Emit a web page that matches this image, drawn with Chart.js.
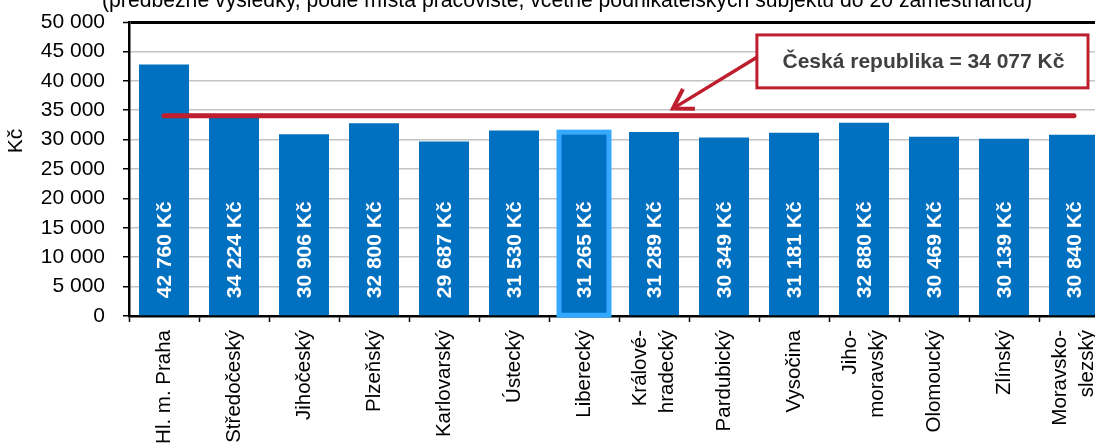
<!DOCTYPE html>
<html>
<head>
<meta charset="utf-8">
<script src="https://cdn.jsdelivr.net/npm/chart.js@4/dist/chart.umd.min.js"></script>
<style>
  html, body { margin: 0; padding: 0; background: #fff; overflow: hidden; }
  #wrap { position: absolute; left: 0; top: 0; width: 1115px; height: 446px; }
</style>
</head>
<body>
<div id="wrap"><canvas id="c"></canvas></div>
<script>
// ---- data ----
const categories = [
  "Hl. m. Praha", "Středočeský", "Jihočeský", "Plzeňský", "Karlovarský", "Ústecký",
  "Liberecký", ["Králové-", "hradecký"], "Pardubický", "Vysočina", ["Jiho-", "moravský"],
  "Olomoucký", "Zlínský", ["Moravsko-", "slezský"]
];
const wages = [42760, 34224, 30906, 32800, 29687, 31530, 31265, 31289, 30349, 31181, 32880, 30469, 30139, 30840];
const nationalAverage = 34077;
const nationalLabel = "Česká republika = 34 077 Kč";
const highlightIndex = 6;
const yMin = 0, yMax = 50000, yStep = 5000;
const titleText = "(předběžné výsledky, podle místa pracoviště, včetně podnikatelských subjektů do 20 zaměstnanců)";
const yAxisTitle = "Kč";
const avgLine = categories.map(() => nationalAverage);

function fmt(v) {
  return String(Math.round(v)).replace(/\B(?=(\d{3})+(?!\d))/g, " ");
}

const BLUE = "#0070C0";
const RED = "#BE1E2D";
const FONT = "'Liberation Sans', Arial, sans-serif";

const overlay = {
  id: "overlay",
  afterDatasetsDraw(chart) {
    const ctx = chart.ctx;
    const meta = chart.getDatasetMeta(1);
    // highlight border
    const hb = meta.data[highlightIndex];
    ctx.save();
    ctx.strokeStyle = "#35A8FF";
    ctx.lineWidth = 5;
    ctx.strokeRect(hb.x - hb.width / 2, hb.y, hb.width, hb.base - hb.y);
    ctx.restore();
    // value labels
    ctx.save();
    ctx.fillStyle = "#fff";
    ctx.font = "bold 21px " + FONT;
    ctx.textAlign = "left";
    ctx.textBaseline = "middle";
    meta.data.forEach((bar, i) => {
      ctx.save();
      ctx.translate(bar.x + 1, bar.base - 17);
      ctx.rotate(-Math.PI / 2);
      ctx.fillText(fmt(wages[i]) + " Kč", 0, 0);
      ctx.restore();
    });
    ctx.restore();
  },
  afterDraw(chart) {
    const ctx = chart.ctx;
    const x = chart.scales.x, y = chart.scales.y;
    const ca = chart.chartArea;
    // category labels (rotated, multi-line centred on the category)
    ctx.save();
    ctx.fillStyle = "#000";
    ctx.font = "20.5px " + FONT;
    ctx.textAlign = "right";
    ctx.textBaseline = "middle";
    const lineGap = 27.5;
    categories.forEach((lab, i) => {
      const lines = Array.isArray(lab) ? lab : [lab];
      const cx = x.getPixelForValue(i);
      lines.forEach((ln, k) => {
        const off = (k - (lines.length - 1) / 2) * lineGap;
        ctx.save();
        ctx.translate(cx + off, ca.bottom + 14);
        ctx.rotate(-Math.PI / 2);
        ctx.fillText(ln, 0, 0);
        ctx.restore();
      });
    });
    ctx.restore();
    // title (partly cut at top)
    ctx.save();
    ctx.fillStyle = "#000";
    ctx.font = "21.2px " + FONT;
    ctx.textAlign = "center";
    ctx.textBaseline = "alphabetic";
    ctx.fillText(titleText, 567, 7);
    ctx.restore();
    // y axis title
    ctx.save();
    ctx.fillStyle = "#000";
    ctx.font = "21px " + FONT;
    ctx.textAlign = "center";
    ctx.textBaseline = "middle";
    ctx.translate(16, (ca.top + ca.bottom) / 2 - 28);
    ctx.rotate(-Math.PI / 2);
    ctx.fillText(yAxisTitle, 0, 0);
    ctx.restore();
    // callout box
    const cw = x.getPixelForValue(1) - x.getPixelForValue(0);
    const bx1 = x.getPixelForValue(8) + 0.47 * cw;
    const bx2 = x.getPixelForValue(13) + 0.2 * cw;
    const by1 = y.getPixelForValue(47800);
    const by2 = y.getPixelForValue(38800);
    ctx.save();
    ctx.fillStyle = "#fff";
    ctx.fillRect(bx1, by1, bx2 - bx1, by2 - by1);
    ctx.strokeStyle = RED;
    ctx.lineWidth = 3;
    ctx.strokeRect(bx1, by1, bx2 - bx1, by2 - by1);
    ctx.fillStyle = "#404040";
    ctx.font = "bold 21px " + FONT;
    ctx.textAlign = "center";
    ctx.textBaseline = "middle";
    ctx.fillText(nationalLabel, (bx1 + bx2) / 2 + 1, (by1 + by2) / 2 + 1);
    // arrow
    const sx = bx1, sy = y.getPixelForValue(44000);
    const tx = x.getPixelForValue(7) + 0.27 * cw, ty = y.getPixelForValue(nationalAverage) - 7;
    ctx.strokeStyle = RED;
    ctx.lineWidth = 3.5;
    ctx.lineCap = "butt";
    ctx.beginPath();
    ctx.moveTo(sx, sy);
    ctx.lineTo(tx, ty);
    ctx.stroke();
    const ang = Math.atan2(ty - sy, tx - sx);
    const L = 22, a = 0.55;
    ctx.lineWidth = 4;
    ctx.beginPath();
    ctx.moveTo(tx - L * Math.cos(ang - a), ty - L * Math.sin(ang - a));
    ctx.lineTo(tx, ty);
    ctx.lineTo(tx - L * Math.cos(ang + a), ty - L * Math.sin(ang + a));
    ctx.lineJoin = "miter";
    ctx.stroke();
    ctx.restore();
  }
};

new Chart(document.getElementById("c"), {
  type: "bar",
  data: {
    labels: categories,
    datasets: [
      {
        type: "line",
        data: avgLine,
        borderColor: RED,
        borderWidth: 5,
        borderCapStyle: "round",
        pointRadius: 0,
        fill: false,
        order: 0
      },
      {
        type: "bar",
        data: wages,
        backgroundColor: BLUE,
        borderWidth: 0,
        categoryPercentage: 1,
        barPercentage: 0.714,
        order: 1
      }
    ]
  },
  options: {
    responsive: true,
    maintainAspectRatio: false,
    animation: false,
    devicePixelRatio: 1,
    layout: { padding: { top: 22, right: 6, left: 0, bottom: 0 } },
    plugins: { legend: { display: false }, tooltip: { enabled: false }, title: { display: false } },
    scales: {
      x: {
        z: 1,
        offset: true,
        grid: {
          offset: true,
          drawOnChartArea: false,
          drawTicks: true,
          tickLength: 6,
          tickColor: "#000",
          tickWidth: 1.5
        },
        border: { display: true, color: "#000", width: 2.5 },
        ticks: { display: false, autoSkip: false },
        afterFit(scale) { scale.height = 130; scale.paddingLeft = 0; scale.paddingRight = 0; }
      },
      y: {
        min: yMin,
        max: yMax,
        ticks: {
          stepSize: yStep,
          padding: 18,
          color: "#000",
          font: { family: FONT, size: 21 },
          callback: (v) => fmt(v)
        },
        grid: {
          color: (c) => (c.tick && c.tick.value === yMax ? "#000" : "#C4C4C4"),
          lineWidth: (c) => (c.tick && c.tick.value === yMax ? 3 : 1.5),
          tickColor: "#000",
          tickLength: 6,
          tickWidth: 1.5
        },
        border: { display: true, color: "#000", width: 2.5 },
        afterFit(scale) { scale.width = 129; scale.paddingTop = 0; scale.paddingBottom = 0; }
      }
    }
  },
  plugins: [overlay]
});
</script>
</body>
</html>
